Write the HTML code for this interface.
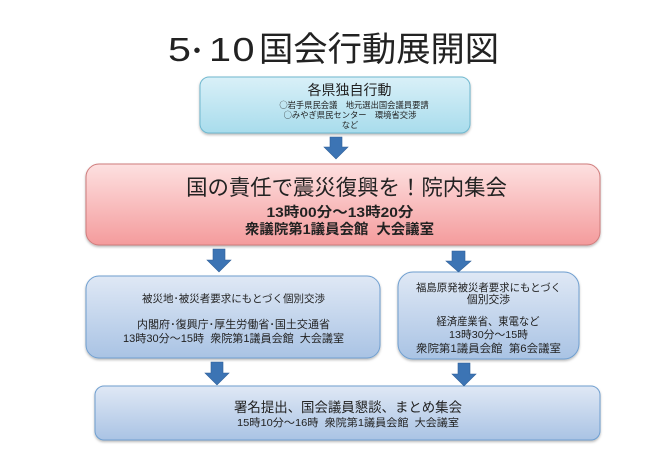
<!DOCTYPE html>
<html lang="ja"><head><meta charset="utf-8">
<style>
html,body{margin:0;padding:0;background:#fff}
svg{display:block}
text{font-family:"Liberation Sans","Noto Sans CJK JP",sans-serif;text-anchor:middle;fill:#222}
.j{font-family:"Noto Sans CJK JP",sans-serif}
</style></head>
<body>
<svg width="670" height="473" viewBox="0 0 670 473" xmlns="http://www.w3.org/2000/svg">
<defs>
<linearGradient id="c" x1="0" y1="0" x2="0" y2="1"><stop offset="0" stop-color="#d9f0f8"/><stop offset="1" stop-color="#a8dcec"/></linearGradient>
<linearGradient id="r" x1="0" y1="0" x2="0" y2="1"><stop offset="0" stop-color="#fde0e0"/><stop offset="1" stop-color="#f49b9c"/></linearGradient>
<linearGradient id="b" x1="0" y1="0" x2="0" y2="1"><stop offset="0" stop-color="#dfe8f5"/><stop offset="1" stop-color="#a9c3e4"/></linearGradient>
<filter id="s" x="-5%" y="-10%" width="110%" height="125%"><feDropShadow dx="0" dy="1.500" stdDeviation="1.200" flood-color="#000" flood-opacity=".28"/></filter>
</defs>
<text transform="translate(168 61) scale(1.250 1)" font-size="33" style="text-anchor:start">5</text>
<text x="190" y="61" font-weight="bold" font-size="28" style="text-anchor:start">･</text>
<text transform="translate(209 61) scale(1.200 1)" font-size="33" style="text-anchor:start">1</text>
<text transform="translate(232.500 61) scale(1.200 1)" font-size="33" style="text-anchor:start">0</text>
<text x="259" y="61" font-size="34.300" style="text-anchor:start">国会行動展開図</text>

<rect x="200" y="77" width="270" height="56" rx="9" fill="url(#c)" stroke="#6fb8cf" filter="url(#s)"/>
<text x="349.500" y="95" font-size="14">各県独自行動</text>
<text x="354" y="108" font-size="8.300" class="j">○岩手県民会議　地元選出国会議員要請</text>
<text x="350" y="118" font-size="8.300" class="j">○みやぎ県民センター　環境省交渉</text>
<text x="350" y="128" font-size="8.300">など</text>

<rect x="86" y="164" width="514" height="81" rx="13" fill="url(#r)" stroke="#cf7b7b" filter="url(#s)"/>
<text x="346.500" y="195" font-size="21.400">国の責任で震災復興を！院内集会</text>
<text x="340" y="217" font-size="14" font-weight="bold" fill="#333" textLength="147" lengthAdjust="spacingAndGlyphs">13時00分～13時20分</text>
<text x="339.500" y="234" font-size="14" font-weight="bold" fill="#333" textLength="189" lengthAdjust="spacingAndGlyphs">衆議院第1議員会館&#160;&#160;大会議室</text>

<rect x="86" y="276" width="294" height="82" rx="13" fill="url(#b)" stroke="#6f9fd0" filter="url(#s)"/>
<text x="233.500" y="302" font-size="10.500" textLength="183" lengthAdjust="spacingAndGlyphs">被災地･被災者要求にもとづく個別交渉</text>
<text x="233.500" y="328" font-size="11" textLength="193" lengthAdjust="spacingAndGlyphs">内閣府･復興庁･厚生労働省･国土交通省</text>
<text x="233.500" y="342" font-size="11" textLength="221" lengthAdjust="spacingAndGlyphs">13時30分～15時&#160;&#160;衆院第1議員会館&#160;&#160;大会議室</text>

<rect x="398" y="272" width="181" height="87" rx="15" fill="url(#b)" stroke="#6f9fd0" filter="url(#s)"/>
<text x="488.500" y="291" font-size="10.500" textLength="145" lengthAdjust="spacingAndGlyphs">福島原発被災者要求にもとづく</text>
<text x="488.500" y="303" font-size="10.800">個別交渉</text>
<text x="488" y="325" font-size="10.800" textLength="103" lengthAdjust="spacingAndGlyphs">経済産業省、東電など</text>
<text x="488.500" y="338" font-size="10.500" textLength="79" lengthAdjust="spacingAndGlyphs">13時30分～15時</text>
<text x="488.500" y="352" font-size="10.800" textLength="145" lengthAdjust="spacingAndGlyphs">衆院第1議員会館&#160;&#160;第6会議室</text>

<rect x="95" y="386" width="505" height="54" rx="9" fill="url(#b)" stroke="#6f9fd0" filter="url(#s)"/>
<text x="348" y="412" font-size="13.500" textLength="228" lengthAdjust="spacingAndGlyphs">署名提出、国会議員懇談、まとめ集会</text>
<text x="348" y="426" font-size="10.500" textLength="222" lengthAdjust="spacingAndGlyphs">15時10分～16時&#160;&#160;衆院第1議員会館&#160;&#160;大会議室</text>

<g fill="#3c74b4" stroke="#2f5f98" stroke-width=".6">
<path d="M330 137h12v10h6l-12 12-12-12h6z"/>
<path d="M213 249h12v11h6l-12 12-12-12h6z"/>
<path d="M452 251h13v10h6l-12.500 11-12.500-11h6z"/>
<path d="M211 362h12v11h6l-12 12-12-12h6z"/>
<path d="M458 363h12v11h6l-12 12-12-12h6z"/>
</g>
</svg>
</body></html>
